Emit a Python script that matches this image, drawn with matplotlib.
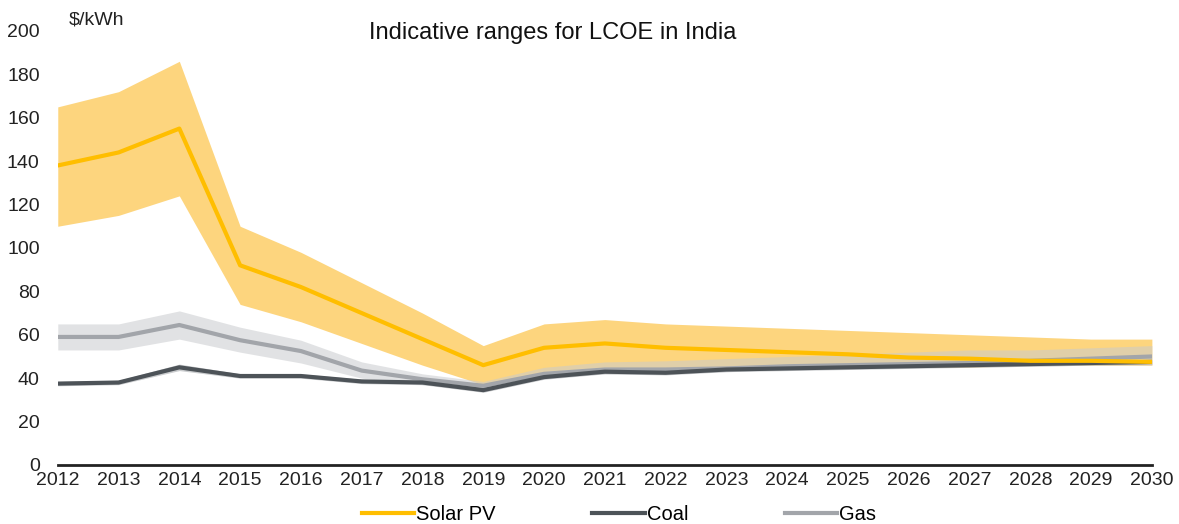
import matplotlib
matplotlib.use("Agg")
import matplotlib.pyplot as plt
import numpy as np

plt.rcParams['font.family'] = ['Liberation Sans', 'DejaVu Sans']

years = np.arange(2012, 2031)

# Solar PV: central line and range
solar_mid = [138, 144, 155, 92, 82, 70, 58, 46, 54, 56, 54, 53, 52, 51, 49.5, 49, 48, 48, 47.5]
solar_hi = [165, 172, 186, 110, 98, 84, 70, 55, 65, 67, 65, 64, 63, 62, 61, 60, 59, 58, 58]
solar_lo = [110, 115, 124, 74, 66, 56, 46, 37, 43, 45, 44, 44, 44, 45, 45, 45, 46, 46, 46]

# Coal
coal_mid = [37.5, 38, 45, 41, 41, 38.5, 38, 34.5, 40.5, 43, 42.5, 44, 44.5, 45, 45.5, 46, 46.5, 47, 47.5]
coal_hi = [38.5, 39, 46.5, 42, 42, 39.5, 39, 35.5, 41.5, 44, 43.5, 45, 45.5, 46, 46.5, 47, 47.5, 48, 48.5]
coal_lo = [36.5, 37, 43.5, 40, 40, 37.5, 37, 33.5, 39.5, 42, 41.5, 43, 43.5, 44, 44.5, 45, 45.5, 46, 46.5]

# Gas
gas_mid = [59, 59, 64.5, 57.5, 52.5, 43.5, 39.5, 36.5, 42, 44, 44, 44.5, 45.5, 46, 46.5, 47, 48, 49, 50]
gas_hi = [65, 65, 71, 63.5, 57.5, 47.5, 42, 38.5, 45, 47.5, 48, 49, 50, 51, 52, 53, 53, 54, 55]
gas_lo = [53, 53, 58, 52, 47, 40, 37, 35, 40, 42, 42, 43, 44, 44.5, 45, 45, 45.5, 46, 46]

fig = plt.figure(figsize=(11.79, 5.24), dpi=100)
ax = fig.add_axes([0.049, 0.1126, 0.928, 0.8284])

ax.fill_between(years, solar_lo, solar_hi, color='#FDD57E', lw=0, zorder=1)
ax.fill_between(years, gas_lo, gas_hi, color='#C9CBCE', alpha=0.55, lw=0, zorder=2)
ax.fill_between(years, coal_lo, coal_hi, color='#A7AAAE', alpha=0.6, lw=0, zorder=3)

ax.plot(years, gas_mid, color='#A2A5AA', lw=3, label='Gas', zorder=4)
ax.plot(years, coal_mid, color='#4D5358', lw=3, label='Coal', zorder=5)
ax.plot(years, solar_mid, color='#FFBE00', lw=3, label='Solar PV', zorder=6)

ax.set_xlim(2012, 2030)
ax.set_ylim(0, 200)
ax.set_xticks(years)
ax.set_yticks(np.arange(0, 201, 20))
ax.tick_params(length=0, labelsize=14, colors='#222222')
ax.tick_params(axis='y', pad=13)
ax.tick_params(axis='x', pad=5)
for s in ['left', 'right', 'top']:
    ax.spines[s].set_visible(False)
ax.spines['bottom'].set_color('#222222')
ax.spines['bottom'].set_linewidth(2)

fig.text(0.058, 0.962, '$/kWh', fontsize=14, color='#222222', va='center')
fig.text(0.469, 0.937, 'Indicative ranges for LCOE in India', fontsize=17,
         color='#111111', ha='center', va='center')

h, l = ax.get_legend_handles_labels()
order = [2, 1, 0]
fig.legend([h[i] for i in order], [l[i] for i in order], loc='center',
           bbox_to_anchor=(0.525, 0.018), ncol=3, frameon=False, fontsize=14.5,
           handlelength=2.6, handletextpad=0.1, columnspacing=4.8)

fig.savefig('out.png', dpi=100)
